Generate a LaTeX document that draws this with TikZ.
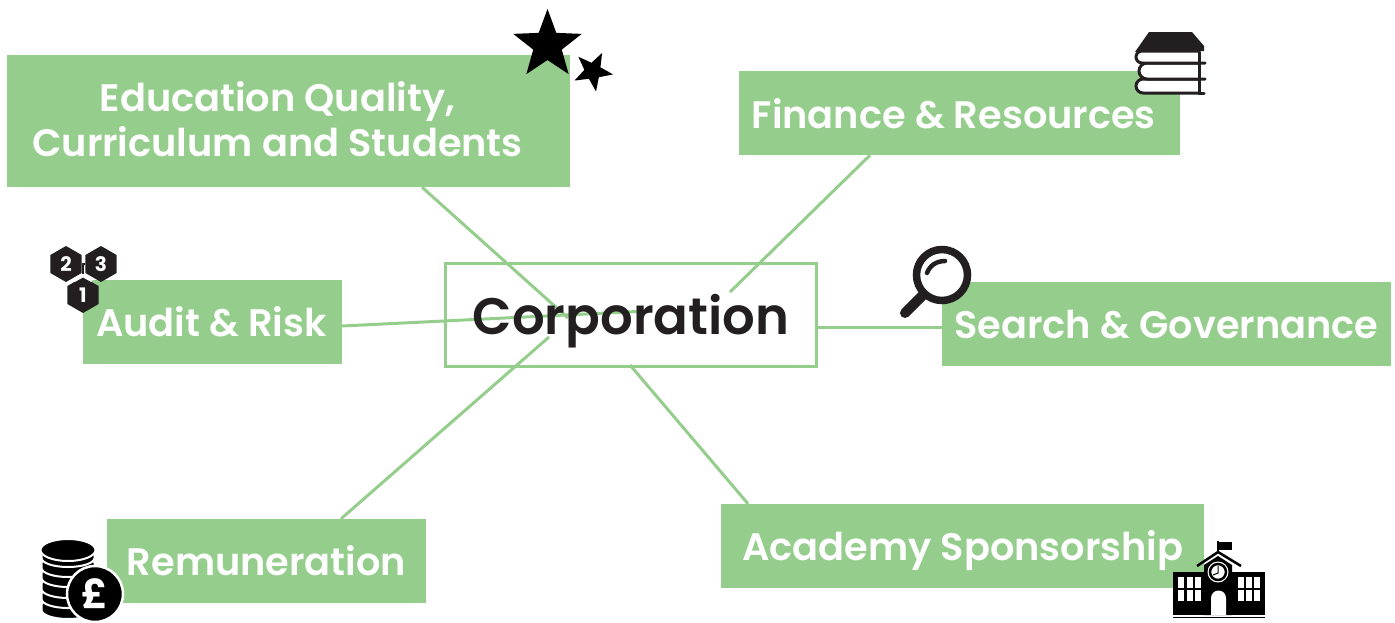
\documentclass[tikz,border=0pt]{standalone}
\usepackage{fontspec}
\setmainfont{Poppins}[UprightFont=* SemiBold,BoldFont=* Bold]
\usetikzlibrary{shapes.geometric}
\definecolor{boxgreen}{HTML}{95CE8C}
\definecolor{icondark}{HTML}{231F20}
\tikzset{
	greenbox/.style={fill=boxgreen, text=white, font=\fontsize{38.3}{45}\selectfont, align=center, inner sep=0pt},
	link/.style={draw=boxgreen, line width=3pt},
	hexa/.style={regular polygon, regular polygon sides=6, fill=icondark, text=white, minimum size=36pt, inner sep=0pt, font=\fontsize{20}{20}\selectfont\bfseries},
	iconline/.style={draw=icondark, line cap=round},
}

\begin{document}
\begin{tikzpicture}[x=1pt,y=-1pt]
	\useasboundingbox (0,0) rectangle (1395,622);
	% boxes
	\node[greenbox, minimum width=563pt, minimum height=132pt] (educ) at (288.5,121) {};
	\node[greenbox, inner sep=0pt] (eductext) at (277.5,119) {Education Quality,\\Curriculum and Students};
	\node[greenbox, minimum width=441pt, minimum height=84pt, text height=32pt] (finance) at (959.5,113) {\hspace*{-11.5pt}Finance \& Resources};
	\node[greenbox, minimum width=259pt, minimum height=84pt] (audit) at (212.5,322) {\hspace*{-2pt}Audit \& Risk};
	\node[greenbox, minimum width=449pt, minimum height=84pt, text height=30pt] (search) at (1166.5,324) {Search \& Governance};
	\node[greenbox, minimum width=319pt, minimum height=84pt] (remun) at (266.5,561) {Remuneration};
	\node[greenbox, minimum width=483pt, minimum height=84pt, text depth=2pt] (academy) at (962.5,546) {\hspace*{1pt}Academy Sponsorship};
	\node[draw=boxgreen, line width=3pt, minimum width=371pt, minimum height=103pt, inner sep=0pt] (corp) at (631,315) {};
	% connectors
	\coordinate (educend) at (568,318);
	\coordinate (financeend) at (730,292);
	\coordinate (auditend) at (637,311.5);
	\coordinate (remunend) at (549,337);
	\coordinate (academyend) at (630,365);
	\draw[link] ([xshift=133.5pt]educ.south) -- (educend);
	\draw[link] ([xshift=-89.5pt]finance.south) -- (financeend);
	\draw[link] ([yshift=-4pt]audit.east) -- (auditend);
	\draw[link] ([yshift=-3pt]search.west) -- ([yshift=-12pt]corp.east);
	\draw[link] ([xshift=74.5pt]remun.north) -- (remunend);
	\draw[link] ([xshift=-214.5pt]academy.north) -- (academyend);
	\node[text=icondark, font=\fontsize{51.3}{60}\selectfont, inner sep=0pt, text depth=0pt] (corptext) at (631,314) {Corporation};
	% stars
	\node[star, star points=5, star point ratio=2.4, fill=black, minimum size=72pt, inner sep=0pt] (bigstar) at (547.5,45) {};
	\node[star, star points=5, star point ratio=2.4, fill=black, minimum size=41pt, inner sep=0pt, rotate=-27] (smallstar) at (592.8,71.2) {};
	% hexagons
	\node[hexa, rotate=30] (hextwo) at (66,264) {\rotatebox{-30}{2}};
	\node[hexa, rotate=30] (hexthree) at (101,264) {\rotatebox{-30}{3}};
	\draw[draw=icondark, line width=2pt] (hextwo) -- (hexthree);
	\node[hexa, rotate=30] (hexone) at (83,295) {\rotatebox{-30}{1}};
	\draw[draw=icondark, line width=2pt] (83,264) -- (83,274);
	\draw[draw=white, line width=2.5pt] (74,281) -- (83,276) -- (92,281);
	% books
	\draw[iconline, line width=3pt, fill=white] (1199,93) -- (1143,93) arc[start angle=90, end angle=270, radius=7] -- (1199,79);
	\draw[iconline, line width=3pt, fill=white] (1205,79) -- (1147,79) arc[start angle=90, end angle=270, radius=8] -- (1199,63);
	\draw[iconline, line width=3pt, fill=white] (1205,63) -- (1142,63) arc[start angle=90, end angle=270, radius=6] -- (1199,51);
	\fill[icondark] (1149,32) -- (1192,32) -- (1204,46) -- (1204,51) -- (1135,52) -- cycle;
	\draw[iconline, line width=3pt] (1199,52) -- (1199,93) -- (1204,93);
	% magnifier
	\draw[iconline, line width=10pt] (905,313) -- (923,295);
	\draw[iconline, line width=7.5pt, fill=white] (942,275) circle (25.5);
	\draw[iconline, line width=4.5pt] (927,273) .. controls (930,265) and (937,261) .. (945,261);
	% coins
	\foreach \y in {605,594,584,573,563,553} {
		\draw[fill=black, draw=white, line width=2pt] (41.5,\y) -- (41.5,\y+5) arc[start angle=180, end angle=0, x radius=26.5, y radius=9] -- (94.5,\y) arc[start angle=0, end angle=-180, x radius=26.5, y radius=9];
	}
	\draw[fill=black, draw=white, line width=2pt] (68,550) ellipse (27.5 and 11);
	\node[circle, fill=black, draw=white, line width=2.5pt, minimum size=56pt, inner sep=0pt, text=white, font=\fontsize{40}{40}\selectfont\bfseries] (pound) at (95,594) {£};
	% school
	\fill[black] (1173,572) rectangle (1204,615);
	\fill[black] (1232,572) rectangle (1265,615);
	\fill[black] (1204,565) -- (1218,556) -- (1232,565) -- (1232,615) -- (1204,615) -- cycle;
	\draw[draw=black, line width=2.5pt] (1197,566) -- (1218,552) -- (1241,566);
	\draw[draw=black, line width=1.5pt] (1218,552) -- (1218,541);
	\fill[black] (1218,542) rectangle (1232,550);
	\draw[draw=black, line width=1.5pt] (1173,617.5) -- (1265,617.5);
	\foreach \x in {1178,1186.5,1195,1237.5,1246,1254} {
		\foreach \y in {577,590} {
			\fill[white] (\x,\y) rectangle (\x+6,\y+11);
		}
	}
	\fill[white] (1211,615) -- (1211,598) arc[start angle=180, end angle=360, radius=7.5] -- (1226,615) -- cycle;
	\fill[white] (1218,572) circle (10.5);
	\draw[fill=white, draw=black, line width=2.5pt] (1218,572) circle (8);
	\draw[draw=black, line width=1pt] (1218,566) -- (1218,573) -- (1213,575);
\end{tikzpicture}
\end{document}
